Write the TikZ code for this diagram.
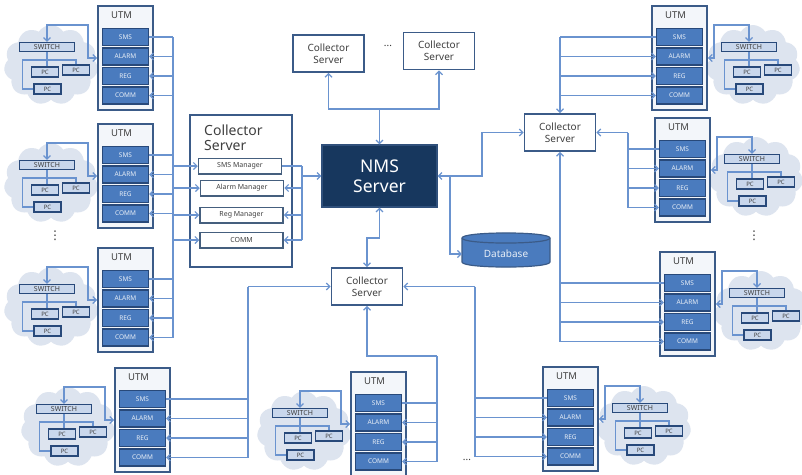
\documentclass[tikz,border=0pt]{standalone}
\usepackage{fontspec}
\setmainfont{Noto Sans}
\newfontfamily\symfont{DejaVu Sans}
\usetikzlibrary{arrows.meta,shapes.symbols}

\definecolor{wirec}{HTML}{6A93CF}
\definecolor{framec}{HTML}{3B5B88}
\definecolor{cellc}{HTML}{4A7BBE}
\definecolor{celledge}{HTML}{28497A}
\definecolor{navyc}{HTML}{17375E}
\definecolor{hazec}{HTML}{DDE4EF}
\definecolor{lanc}{HTML}{C9D7EC}
\definecolor{inkc}{HTML}{404040}
\definecolor{paperc}{HTML}{F3F6FA}

\tikzset{
  wire/.style={draw=wirec, line width=1.2pt},
  arr/.style={wire, -{Straight Barb[length=3.5pt,width=7pt]}},
  twoway/.style={wire, {Straight Barb[length=3.5pt,width=7pt]}-{Straight Barb[length=3.5pt,width=7pt]}},
  utmframe/.style={draw=framec, line width=1.8pt, fill=paperc, minimum width=55pt, minimum height=104pt, inner sep=0pt},
  cellbox/.style={draw=celledge, line width=1.2pt, fill=cellc, text=white!88!cellc, font=\fontsize{6.5}{7}\selectfont, minimum width=46pt, minimum height=17pt, inner sep=0pt},
  lanbox/.style={draw=celledge, line width=1.3pt, fill=lanc, text=inkc, inner sep=0pt},
  switchbox/.style={lanbox, minimum width=55pt, minimum height=9pt, font=\fontsize{7}{7}\selectfont},
  pcbox/.style={lanbox, minimum width=27pt, minimum height=10pt, font=\fontsize{6}{6}\selectfont},
  lancloud/.style={cloud, cloud puffs=11, cloud puff arc=115, cloud ignores aspect, fill=hazec, minimum width=94pt, minimum height=80pt, inner sep=0pt},
  csbox/.style={draw=framec, line width=1.8pt, fill=white, text=inkc, align=center, font=\fontsize{10}{12}\selectfont, minimum width=71pt, minimum height=37pt, inner sep=0pt},
  mgrbox/.style={draw=navyc!80, line width=1.5pt, fill=white, text=inkc, font=\fontsize{7}{8}\selectfont, minimum width=83pt, minimum height=15.5pt, inner sep=0pt},
  dotsnode/.style={text=black!80, font=\fontsize{10}{10}\selectfont, inner sep=0pt},
  vdotsnode/.style={text=black!80, font=\symfont\fontsize{12}{12}\selectfont, inner sep=0pt},
}

% a LAN cloud: one switch and three PCs; #1 prefix, (#2,#3) switch centre
\newcommand\lanunit[3]{%
  \begin{scope}[shift={({#2},{#3})}]
    \node[lancloud] (#1-cloud) at (4,18) {};
    \node[switchbox] (#1-sw) at (0,0) {SWITCH};
    \node[pcbox] (#1-pc1) at (-2,25) {PC};
    \node[pcbox] (#1-pc2) at (29,23) {PC};
    \node[pcbox] (#1-pc3) at (0.5,42) {PC};
    \coordinate (#1-split) at (-24.5,13);
    \draw[wire] (#1-sw.south) -- (#1-sw.south |- #1-pc1.north);
    \draw[wire] (#1-pc3.west) -| (#1-split) -| (#1-pc2.north);
  \end{scope}}

% a UTM box with its four function cells; #1 prefix, (#2,#3) top-left corner
\newcommand\utmunit[3]{%
  \begin{scope}[shift={({#2},{#3})}]
    \node[utmframe] (#1) at (27.5,52) {};
    \node[font=\fontsize{9.5}{10}\selectfont, text=inkc, inner sep=0pt] (#1-title) at (23.5,9.5) {UTM};
    \node[cellbox] (#1-sms) at (27.5,31) {SMS};
    \node[cellbox] (#1-alarm) at (27.5,50.5) {ALARM};
    \node[cellbox] (#1-reg) at (27.5,70) {REG};
    \node[cellbox] (#1-comm) at (27.5,89.5) {COMM};
  \end{scope}}

% UTM with its LAN on the west side
\newcommand\utmwest[3]{%
  \lanunit{#1l}{#2-51}{#3+41}
  \utmunit{#1}{#2}{#3}
  \coordinate (#1-fb) at ({#2-10},{#3+19});
  \draw[twoway] (#1l-sw.north) |- (#1-fb) |- (#1.west);}

% UTM with its LAN on the east side
\newcommand\utmeast[3]{%
  \lanunit{#1l}{#2+97}{#3+41}
  \utmunit{#1}{#2}{#3}
  \coordinate (#1-fb) at ({#2+62},{#3+19});
  \draw[twoway] (#1l-sw.north) |- (#1-fb) |- (#1.east);}

% cells of UTM #1 tapped onto the bus at the x of coordinate #2
\newcommand\tapeast[2]{%
  \draw[wire] (#1-sms.east) -- (#1-sms.east -| #2);
  \foreach \cellname in {alarm,reg,comm}{\draw[arr] (#1-\cellname.east -| #2) -- (#1-\cellname.east);}}
\newcommand\tapwest[2]{%
  \draw[wire] (#1-sms.west) -- (#1-sms.west -| #2);
  \foreach \cellname in {alarm,reg,comm}{\draw[arr] (#1-\cellname.west -| #2) -- (#1-\cellname.west);}}

\begin{document}
\begin{tikzpicture}[x=1pt,y=-1pt]
\useasboundingbox (0,0) rectangle (802,474);
\fill[white] (0,0) rectangle (802,474);

% bus columns
\coordinate (busL) at (173,0);
\coordinate (busM) at (302,0);
\coordinate (busBL) at (248,0);
\coordinate (busBM) at (437,0);
\coordinate (busBR) at (475,0);
\coordinate (busR1) at (560,0);
\coordinate (busR2) at (628,0);

% UTM units
\utmwest{tl}{98}{6}
\utmwest{ml}{98}{124}
\utmwest{ll}{98}{248}
\utmeast{tr}{652}{6}
\utmeast{mr}{655}{118}
\utmeast{lr}{660}{252}
\utmwest{bl}{115}{368}
\utmwest{bm}{351}{372}
\utmeast{br}{543}{367}

\node[vdotsnode] (ldots) at (55,236) {⋮};
\node[vdotsnode] (rdots) at (754,236) {⋮};
\node[dotsnode] (bdots) at (467,460) {...};

% collector server with its managers
\node[draw=framec, line width=1.8pt, fill=white, minimum width=102pt, minimum height=152pt, inner sep=0pt] (lcs) at (241,191) {};
\node[anchor=north west, align=left, font=\fontsize{14}{14.5}\selectfont, text=inkc, inner sep=0pt] (lcs-title) at (204,125) {Collector\\Server};
\node[mgrbox] (smsm) at (240,166) {SMS Manager};
\node[mgrbox] (alarmm) at (242,188) {Alarm Manager};
\node[mgrbox] (regm) at (241.5,215) {Reg Manager};
\node[mgrbox] (commm) at (241.5,240) {COMM};

% NMS server
\node[draw=framec!70!navyc, line width=1.2pt, fill=navyc, text=white, align=center, font=\fontsize{17.5}{20}\selectfont, minimum width=115pt, minimum height=62pt, inner sep=0pt] (nms) at (379.5,176) {NMS\\Server};

% left bus
\draw[wire] (tl-sms.east -| busL) -- (ll-comm.east -| busL);
\tapeast{tl}{busL}
\tapeast{ml}{busL}
\tapeast{ll}{busL}
\foreach \m in {smsm,alarmm,regm,commm}{\draw[arr] (\m.west -| busL) -- (\m.west);}

% managers to NMS
\draw[wire] (smsm.east) -- (smsm.east -| busM);
\draw[wire] (smsm.east -| busM) -- (commm.east -| busM);
\foreach \m in {alarmm,regm,commm}{\draw[arr] (\m.east -| busM) -- (\m.east);}
\draw[arr] (nms.west -| busM) -- (nms.west);

% upper collector servers
\node[csbox] (cs1) at (328.5,53.5) {Collector\\Server};
\node[csbox] (cs2) at (439,51) {Collector\\Server};
\node[dotsnode] (topdots) at (388,46) {...};
\coordinate (topj) at (379.5,109);
\draw[arr] (topj) -- (nms.north);
\draw[arr] (topj) -| (cs1.south);
\draw[arr] (topj) -| (cs2.south);

% right collector server
\node[csbox] (rcs) at (560,132.5) {Collector\\Server};
\coordinate (nmsbend) at (482,0);
\draw[twoway] (nms.east) -- (nms.east -| nmsbend) |- (rcs.west);

% database
\path[fill=cellc, draw=framec, line width=1.2pt] (462,238) -- (462,262) .. controls (462,268.7) and (550,268.7) .. (550,262) -- (550,238) .. controls (550,231.3) and (462,231.3) .. (462,238) -- cycle;
\draw[framec, line width=1.2pt] (462,238) .. controls (462,244.7) and (550,244.7) .. (550,238);
\node[minimum width=88pt, minimum height=20pt, inner sep=0pt, text=white!88!cellc, font=\fontsize{10}{10}\selectfont] (db) at (506,254) {Database};
\coordinate (dbtap) at (450,0);
\draw[arr] (nms.east -| dbtap) |- (db.west);

% right buses
\draw[arr] (tr-sms.west -| busR1) -- (rcs.north);
\tapwest{tr}{busR1}
\draw[arr] (rcs.east -| busR2) -- (rcs.east);
\draw[wire] (rcs.east -| busR2) -- (mr-comm.west -| busR2);
\tapwest{mr}{busR2}
\draw[arr] (lr-comm.west -| busR1) -- (rcs.south);
\tapwest{lr}{busR1}

% lower collector server
\node[csbox] (bcs) at (367,286.5) {Collector\\Server};
\coordinate (nmsdrop) at (0,238);
\draw[twoway] (nms.south) -- (nms.south |- nmsdrop) -| (bcs.north);
\draw[arr] (bcs.west -| busBL) -- (bcs.west);
\draw[wire] (bcs.west -| busBL) -- (bl-comm.east -| busBL);
\tapeast{bl}{busBL}
\draw[arr] (bcs.east -| busBR) -- (bcs.east);
\draw[wire] (bcs.east -| busBR) -- (br-comm.west -| busBR);
\tapwest{br}{busBR}
\coordinate (bmjoin) at (437,356);
\draw[arr] (bmjoin) -| (bcs.south);
\draw[wire] (bmjoin) -- (bm-comm.east -| bmjoin);
\tapeast{bm}{busBM}
\end{tikzpicture}
\end{document}
